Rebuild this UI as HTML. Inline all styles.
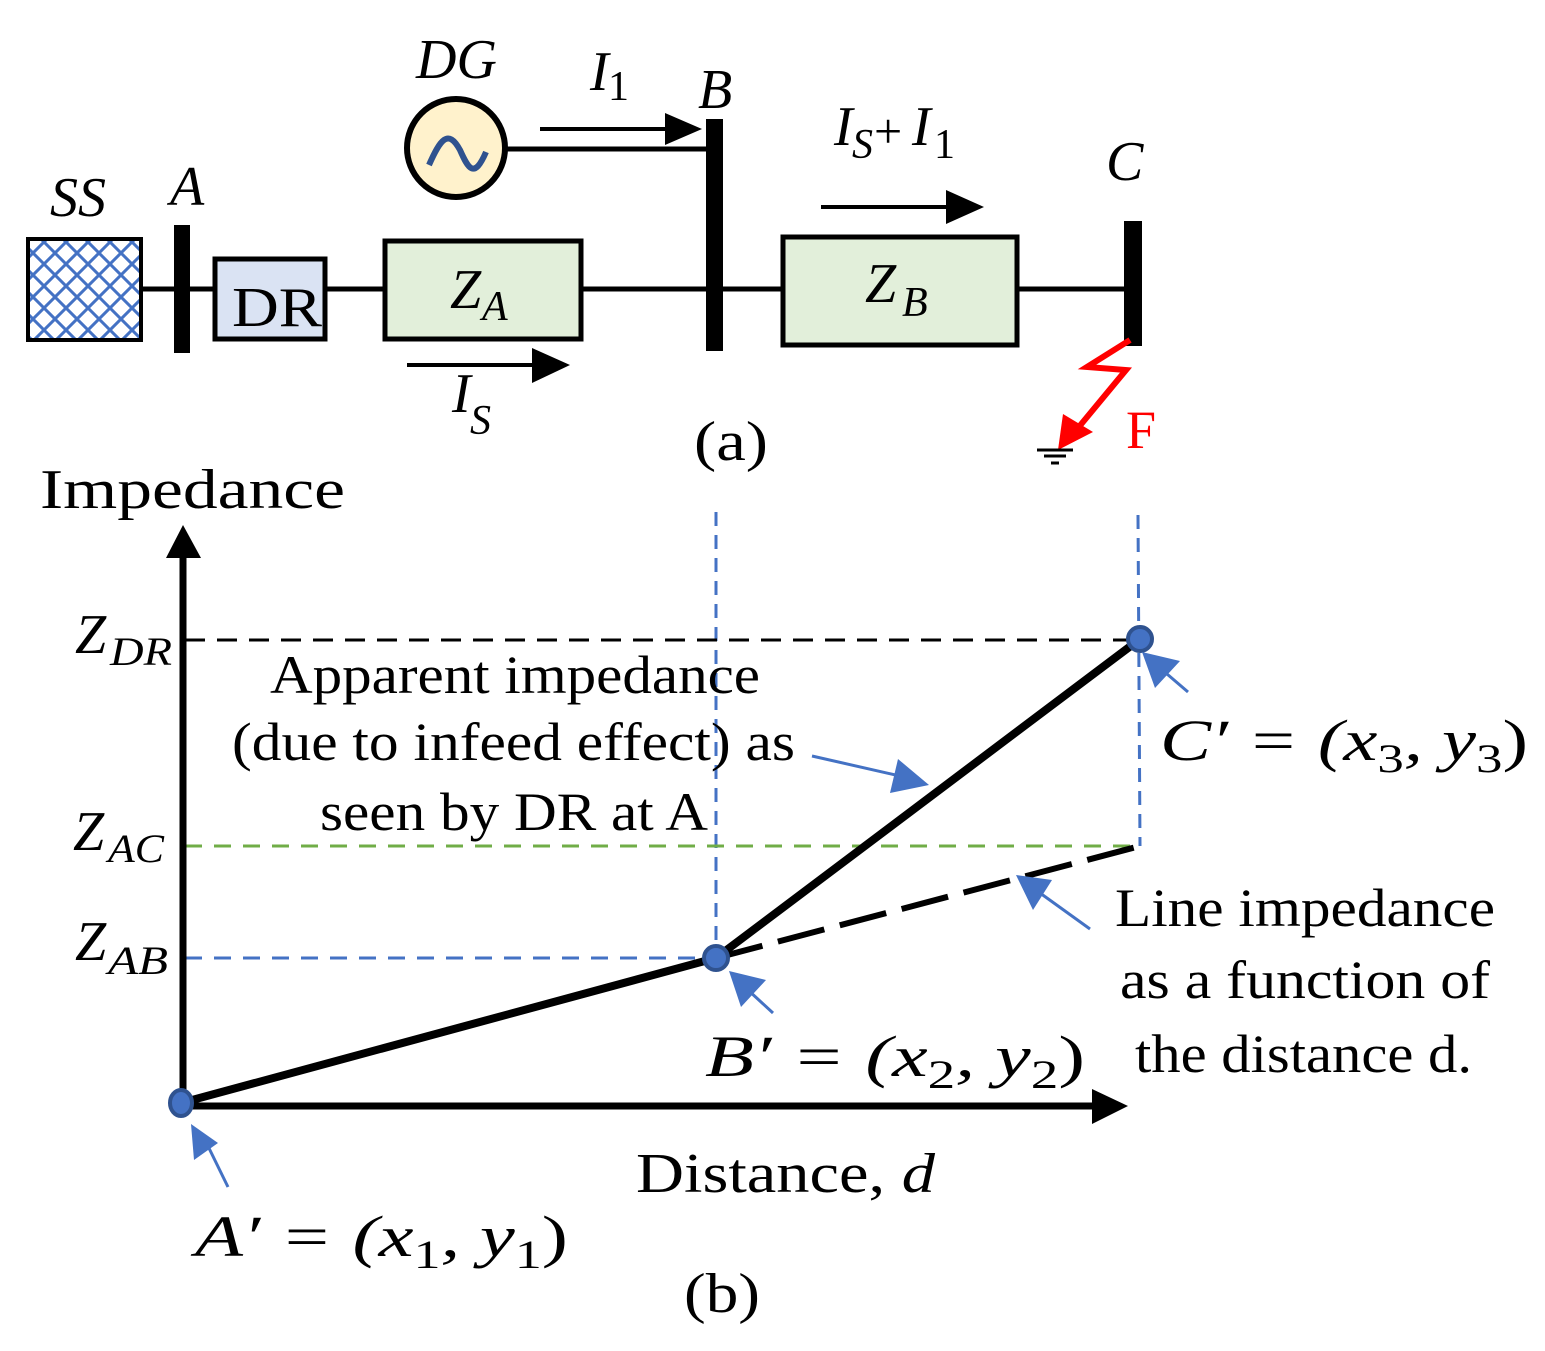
<!DOCTYPE html>
<html><head><meta charset="utf-8"><style>
html,body{margin:0;padding:0;background:#fff;}
svg{display:block;}
text{font-family:"Liberation Serif",serif;fill:#000;}
.i{font-style:italic;}
</style></head><body>
<svg width="1545" height="1351" viewBox="0 0 1545 1351" xmlns="http://www.w3.org/2000/svg">
<defs>
<pattern id="hatch" width="22" height="22" patternUnits="userSpaceOnUse">
<path d="M-2,-2 L24,24 M-2,20 L2,24 M20,-2 L24,2 M24,-2 L-2,24 M-2,2 L2,-2 M20,24 L24,20" stroke="#4472c4" stroke-width="3"/>
</pattern>
</defs>
<line x1="142" y1="289" x2="1130" y2="289" stroke="#000" stroke-width="5"/>
<rect x="28" y="239" width="113" height="101" fill="#fff" stroke="#000" stroke-width="4"/>
<rect x="30" y="241" width="109" height="97" fill="url(#hatch)"/>
<rect x="174" y="225" width="16" height="128" fill="#000"/>
<rect x="215" y="259" width="110" height="80" fill="#dae3f3" stroke="#000" stroke-width="5"/>
<text x="232" y="326" font-size="56" textLength="90" lengthAdjust="spacingAndGlyphs">DR</text>
<rect x="385" y="241" width="196" height="98" fill="#e2efda" stroke="#000" stroke-width="5"/>
<text x="450" y="308" font-size="56" class="i">Z</text><text x="482" y="320" font-size="42" class="i">A</text>
<rect x="706" y="119" width="17" height="232" fill="#000"/>
<line x1="503" y1="149" x2="706" y2="149" stroke="#000" stroke-width="5"/>
<circle cx="456" cy="148" r="49" fill="#fff2cc" stroke="#000" stroke-width="6"/>
<path d="M429,165 C440,140 448,128 460,150 C468,168 474,180 486,152" fill="none" stroke="#2f528f" stroke-width="6"/>
<text x="416" y="78" font-size="56" class="i">DG</text>
<text x="590" y="90" font-size="56" class="i">I</text><text x="608" y="100" font-size="42">1</text>
<text x="698" y="108" font-size="56" class="i">B</text>
<line x1="540" y1="129" x2="668" y2="129" stroke="#000" stroke-width="4"/>
<polygon points="665,113 702,129 665,145" fill="#000"/>
<line x1="407" y1="365" x2="535" y2="365" stroke="#000" stroke-width="4"/>
<polygon points="532,348 570,365 532,383" fill="#000"/>
<text x="452" y="412" font-size="56" class="i">I</text><text x="470" y="434" font-size="42" class="i">S</text>
<text x="50" y="216" font-size="56" class="i">SS</text>
<text x="170" y="205" font-size="56" class="i">A</text>
<rect x="783" y="237" width="234" height="108" fill="#e2efda" stroke="#000" stroke-width="5"/>
<text x="865" y="302" font-size="56" class="i">Z</text><text x="902" y="316" font-size="42" class="i">B</text>
<line x1="821" y1="207" x2="950" y2="207" stroke="#000" stroke-width="4"/>
<polygon points="946,190 984,207 946,224" fill="#000"/>
<text x="834" y="145" font-size="56" class="i">I</text><text x="852" y="158" font-size="42" class="i">S</text>
<text x="874" y="148" font-size="50">+</text>
<text x="912" y="145" font-size="56" class="i">I</text><text x="934" y="158" font-size="42">1</text>
<text x="1106" y="180" font-size="56" class="i">C</text>
<rect x="1124" y="221" width="18" height="125" fill="#000"/>
<polyline points="1130,340 1087,367 1126,370 1078,428" fill="none" stroke="#f00" stroke-width="6"/>
<polygon points="1063,414 1093,432 1058,450" fill="#f00"/>
<line x1="1037" y1="450" x2="1073" y2="450" stroke="#000" stroke-width="3"/>
<line x1="1044" y1="456" x2="1066" y2="456" stroke="#000" stroke-width="3"/>
<line x1="1051" y1="463" x2="1059" y2="463" stroke="#000" stroke-width="3"/>
<text x="1126" y="448" font-size="54" style="fill:#f00">F</text>
<text x="694" y="460" font-size="56" textLength="74" lengthAdjust="spacingAndGlyphs">(a)</text>
<text x="40" y="508" font-size="56" textLength="305" lengthAdjust="spacingAndGlyphs">Impedance</text>
<line x1="716" y1="512" x2="716" y2="958" stroke="#4472c4" stroke-width="3" stroke-dasharray="14,9"/>
<line x1="1138" y1="515" x2="1140" y2="846" stroke="#4472c4" stroke-width="3" stroke-dasharray="14,9"/>
<line x1="185" y1="640" x2="1140" y2="640" stroke="#000" stroke-width="3" stroke-dasharray="20,12"/>
<line x1="185" y1="846" x2="1140" y2="846" stroke="#70ad47" stroke-width="3" stroke-dasharray="17,12"/>
<line x1="185" y1="958" x2="716" y2="958" stroke="#4472c4" stroke-width="3" stroke-dasharray="17,12"/>
<line x1="716" y1="958" x2="1140" y2="846" stroke="#000" stroke-width="6" stroke-dasharray="48,16"/>
<line x1="183" y1="1106" x2="183" y2="555" stroke="#000" stroke-width="7"/>
<polygon points="166,558 183,525 201,558" fill="#000"/>
<line x1="183" y1="1106" x2="1095" y2="1106" stroke="#000" stroke-width="7"/>
<polygon points="1092,1089 1128,1106 1092,1124" fill="#000"/>
<polyline points="181,1103 716,958 1140,639" fill="none" stroke="#000" stroke-width="8"/>
<ellipse cx="181" cy="1103" rx="11" ry="13" fill="#4472c4" stroke="#2f528f" stroke-width="4"/>
<ellipse cx="716" cy="958" rx="12" ry="12" fill="#4472c4" stroke="#2f528f" stroke-width="4"/>
<ellipse cx="1140" cy="639" rx="12" ry="12" fill="#4472c4" stroke="#2f528f" stroke-width="4"/>
<g stroke="#4472c4" stroke-width="3" fill="#4472c4">
<line x1="812" y1="756" x2="900" y2="776"/><polygon points="898,759 929,785 890,793" stroke="none"/>
<line x1="1090" y1="929" x2="1040" y2="893"/><polygon points="1016,875 1052,880 1033,910" stroke="none"/>
<line x1="1188" y1="692" x2="1160" y2="668"/><polygon points="1142,652 1180,661 1155,688" stroke="none"/>
<line x1="773" y1="1013" x2="748" y2="990"/><polygon points="729,971 766,980 741,1007" stroke="none"/>
<line x1="228" y1="1187" x2="205" y2="1140"/><polygon points="191,1124 218,1143 194,1160" stroke="none"/>
</g>
<text x="75" y="653" font-size="56" class="i">Z</text><text x="110" y="665" font-size="40" class="i" textLength="62" lengthAdjust="spacingAndGlyphs">DR</text>
<text x="73" y="850" font-size="56" class="i">Z</text><text x="108" y="862" font-size="40" class="i" textLength="56" lengthAdjust="spacingAndGlyphs">AC</text>
<text x="75" y="960" font-size="56" class="i">Z</text><text x="108" y="974" font-size="40" class="i" textLength="60" lengthAdjust="spacingAndGlyphs">AB</text>
<g font-size="54" lengthAdjust="spacingAndGlyphs">
<text x="270" y="693" textLength="490" lengthAdjust="spacingAndGlyphs">Apparent impedance</text>
<text x="232" y="760" textLength="563" lengthAdjust="spacingAndGlyphs">(due to infeed effect) as</text>
<text x="320" y="830" textLength="388" lengthAdjust="spacingAndGlyphs">seen by DR at A</text>
<text x="1115" y="926" textLength="380" lengthAdjust="spacingAndGlyphs">Line impedance</text>
<text x="1120" y="998" textLength="370" lengthAdjust="spacingAndGlyphs">as a function of</text>
<text x="1135" y="1072" textLength="337" lengthAdjust="spacingAndGlyphs">the distance d.</text>
</g>
<text x="1160" y="760" font-size="58" class="i" textLength="368" lengthAdjust="spacingAndGlyphs">C′ = (x<tspan font-size="40" font-style="normal" dy="12">3</tspan><tspan dy="-12">, y</tspan><tspan font-size="40" font-style="normal" dy="12">3</tspan><tspan dy="-12" font-style="normal">)</tspan></text>
<text x="705" y="1076" font-size="58" class="i" textLength="380" lengthAdjust="spacingAndGlyphs">B′ = (x<tspan font-size="40" font-style="normal" dy="12">2</tspan><tspan dy="-12">, y</tspan><tspan font-size="40" font-style="normal" dy="12">2</tspan><tspan dy="-12" font-style="normal">)</tspan></text>
<text x="195" y="1256" font-size="58" class="i" textLength="373" lengthAdjust="spacingAndGlyphs">A′ = (x<tspan font-size="40" font-style="normal" dy="12">1</tspan><tspan dy="-12">, y</tspan><tspan font-size="40" font-style="normal" dy="12">1</tspan><tspan dy="-12" font-style="normal">)</tspan></text>
<text x="636" y="1192" font-size="56" textLength="299" lengthAdjust="spacingAndGlyphs">Distance, <tspan class="i">d</tspan></text>
<text x="684" y="1312" font-size="56" textLength="76" lengthAdjust="spacingAndGlyphs">(b)</text>
</svg>
</body></html>
